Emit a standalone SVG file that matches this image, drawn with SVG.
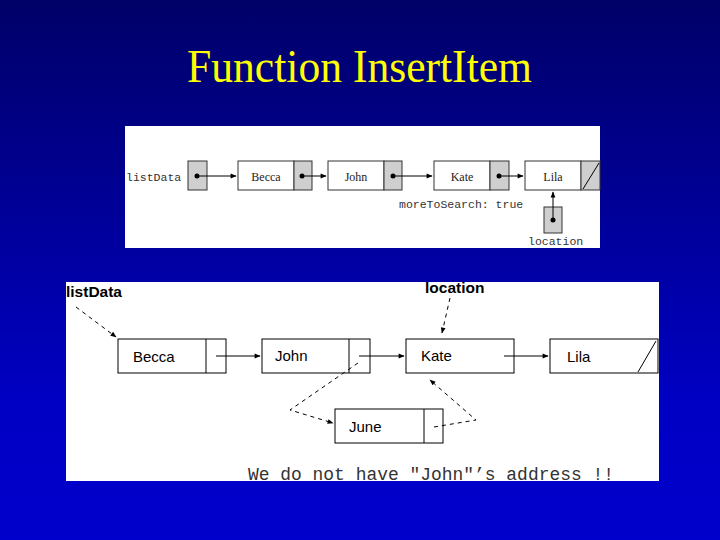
<svg xmlns="http://www.w3.org/2000/svg" width="720" height="540" viewBox="0 0 720 540">
<defs>
<linearGradient id="bg" x1="0" y1="0" x2="0" y2="1">
<stop offset="0" stop-color="#000068"/>
<stop offset="0.75" stop-color="#0000c4"/>
<stop offset="1" stop-color="#0000cc"/>
</linearGradient>
<marker id="ah" viewBox="0 0 10 10" refX="9" refY="5" markerWidth="8" markerHeight="6" orient="auto" markerUnits="userSpaceOnUse">
<path d="M0,1 L10,5 L0,9 Z" fill="#000"/>
</marker>
<marker id="ah2" viewBox="0 0 10 10" refX="9" refY="5" markerWidth="7" markerHeight="6" orient="auto" markerUnits="userSpaceOnUse">
<path d="M0,1 L10,5 L0,9 Z" fill="#000"/>
</marker>
</defs>
<style>
.title{font-family:"Liberation Serif","Times New Roman",serif;font-size:47px;fill:#ffff00}
.mono{font-family:"Liberation Mono","Courier New",monospace;font-size:11.5px;fill:#333}
.serif{font-family:"Liberation Serif",serif;font-size:12px;fill:#222}
.sans{font-family:"Liberation Sans",Arial,sans-serif;font-size:15px;fill:#000}
.bold{font-family:"Liberation Sans",Arial,sans-serif;font-size:15.5px;font-weight:bold;fill:#000}
.big{font-family:"Liberation Mono","Courier New",monospace;font-size:18px;fill:#333}
.cell{fill:#fff;stroke:#333;stroke-width:1}
.gray{fill:#cfcfcf;stroke:#333;stroke-width:1}
.box{fill:#fff;stroke:#000;stroke-width:1}
.ln{stroke:#000;stroke-width:1;fill:none}
.dash{stroke:#000;stroke-width:1;fill:none;stroke-dasharray:4,4}
.dot{fill:#000}
</style>
<rect x="0" y="0" width="720" height="540" fill="url(#bg)"/>
<text class="title" x="187" y="82" textLength="345" lengthAdjust="spacingAndGlyphs">Function InsertItem</text>

<rect x="125" y="126" width="475" height="122" fill="#fff"/>
<rect x="66" y="282" width="593" height="199" fill="#fff"/>

<g id="top-listData">
<text class="mono" x="126" y="181">listData</text>
<rect class="gray" x="188" y="161" width="19" height="29"/>
<circle class="dot" cx="197" cy="176" r="2.5"/>
</g>
<g id="top-becca">
<rect class="cell" x="238" y="161" width="56" height="29"/>
<rect class="gray" x="294" y="161" width="18" height="29"/>
<text class="serif" x="266" y="181" text-anchor="middle">Becca</text>
<circle class="dot" cx="302" cy="176" r="2.5"/>
</g>
<g id="top-john">
<rect class="cell" x="328" y="161" width="56" height="29"/>
<rect class="gray" x="384" y="161" width="18" height="29"/>
<text class="serif" x="356" y="181" text-anchor="middle">John</text>
<circle class="dot" cx="393" cy="176" r="2.5"/>
</g>
<g id="top-kate">
<rect class="cell" x="434" y="161" width="56" height="29"/>
<rect class="gray" x="490" y="161" width="19" height="29"/>
<text class="serif" x="462" y="181" text-anchor="middle">Kate</text>
<circle class="dot" cx="499" cy="176" r="2.5"/>
</g>
<g id="top-lila">
<rect class="cell" x="525" y="161" width="56" height="29"/>
<rect class="gray" x="581" y="161" width="19" height="29"/>
<line class="ln" x1="583" y1="189" x2="599" y2="163"/>
<text class="serif" x="553" y="181" text-anchor="middle">Lila</text>
</g>
<g id="top-moreToSearch">
<text class="mono" x="399" y="208">moreToSearch: true</text>
</g>
<g id="top-location">
<rect class="gray" x="544" y="207" width="18" height="26"/>
<circle class="dot" cx="553" cy="220" r="2.5"/>
<text class="mono" x="528" y="245">location</text>
</g>

<g id="bottom-listData">
<text class="bold" x="66" y="297">listData</text>
</g>
<g id="bottom-location">
<text class="bold" x="425" y="293">location</text>
</g>
<g id="bottom-becca">
<rect class="box" x="118" y="339" width="108" height="34"/>
<line class="ln" x1="206" y1="339" x2="206" y2="373"/>
<text class="sans" x="133" y="362">Becca</text>
</g>
<g id="bottom-john">
<rect class="box" x="262" y="339" width="108" height="34"/>
<line class="ln" x1="349" y1="339" x2="349" y2="373"/>
<text class="sans" x="275" y="361">John</text>
</g>
<g id="bottom-kate">
<rect class="box" x="406" y="339" width="108" height="34"/>
<text class="sans" x="421" y="361">Kate</text>
</g>
<g id="bottom-lila">
<rect class="box" x="550" y="339" width="108" height="34"/>
<line class="ln" x1="638" y1="372" x2="656" y2="341"/>
<text class="sans" x="567" y="362">Lila</text>
</g>
<g id="bottom-june">
<rect class="box" x="335" y="409" width="108" height="34"/>
<line class="ln" x1="424" y1="409" x2="424" y2="443"/>
<text class="sans" x="349" y="432">June</text>
</g>
<g id="note">
<text class="big" x="248" y="480" textLength="366" lengthAdjust="spacingAndGlyphs">We do not have "John"’s address !!</text>
</g>

<g id="connectors">
<line class="ln" x1="197" y1="176" x2="236" y2="176" marker-end="url(#ah2)"/>
<line class="ln" x1="302" y1="176" x2="326" y2="176" marker-end="url(#ah2)"/>
<line class="ln" x1="393" y1="176" x2="432" y2="176" marker-end="url(#ah2)"/>
<line class="ln" x1="499" y1="176" x2="523" y2="176" marker-end="url(#ah2)"/>
<line class="ln" x1="553" y1="220" x2="553" y2="192" marker-end="url(#ah2)"/>

<line class="dash" x1="76" y1="307" x2="116" y2="337" stroke-dasharray="2,2" marker-end="url(#ah)"/>
<line class="dash" x1="450" y1="298" x2="442" y2="333" stroke-dasharray="6,3" marker-end="url(#ah)"/>
<line class="ln" x1="216" y1="356" x2="260" y2="356" marker-end="url(#ah)"/>
<line class="ln" x1="359" y1="356" x2="404" y2="356" marker-end="url(#ah)"/>
<line class="ln" x1="504" y1="356" x2="548" y2="356" marker-end="url(#ah)"/>
<polyline class="dash" points="358,363 290,410 333,423" marker-end="url(#ah)"/>
<polyline class="dash" points="434,427 476,420 430,380" marker-end="url(#ah)"/>
</g>
</svg>
